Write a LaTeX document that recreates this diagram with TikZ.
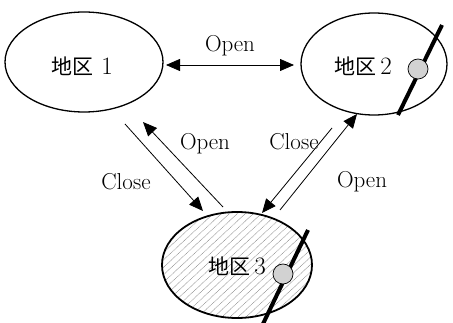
\documentclass[tikz,border=0pt]{standalone}
\usepackage{fontspec}
\newfontfamily\cjk{Noto Sans CJK SC}
\usetikzlibrary{shapes.geometric,arrows.meta}
\tikzset{
  area/.style={draw, line width=1.3pt, ellipse, inner sep=0pt},
  lbl/.style={font=\fontsize{23}{24}\selectfont, inner sep=0pt},
  zlbl/.style={font=\fontsize{25}{26}\selectfont, inner sep=0pt},
  tip/.tip={Triangle[length=14pt,width=12pt]},
  flow/.style={line width=0.8pt, -tip},
  cut/.style={line width=4pt},
  blob/.style={circle, draw, line width=0.7pt, fill=gray!35, minimum size=20pt, inner sep=0pt}
}
\newcommand{\zk}[1]{{\cjk\fontsize{21}{22}\selectfont #1}}
\begin{document}
\begin{tikzpicture}[x=1pt,y=-1pt]
\useasboundingbox (0,0) rectangle (453,323);
% area 3 hatched
\begin{scope}
  \clip (237,265) ellipse [x radius=75, y radius=53];
  \foreach \i in {-200,-192,...,200} {
    \draw[gray!80, line width=0.6pt, dash pattern=on 1pt off 0.6pt] (\i+160,330) -- (\i+300,200);
  }
\end{scope}
\node[area, line width=1.8pt, minimum width=150pt, minimum height=106pt] (a3) at (237,265) {};
\node[area, minimum width=158pt, minimum height=100pt] (a1) at (84,62) {};
\node[area, minimum width=146pt, minimum height=102pt] (a2) at (374,64) {};
% cuts
\coordinate (c2a) at (442,25);
\coordinate (c2b) at (398,115);
\draw[cut] (c2a) -- (c2b);
\node[blob] (b2) at (418,69) {};
\coordinate (c3a) at (308,230);
\coordinate (c3b) at (262,326);
\draw[cut] (c3a) -- (c3b);
\node[blob] (b3) at (283,274) {};
% labels
\node[zlbl] (t1) at (82,66) {\zk{地区}\,\,1};
\node[zlbl] (t2) at (363,66) {\zk{地区}\,2};
\node[zlbl] (t3) at (237,266) {\zk{地区}\,3};
% arrows
\coordinate (p1) at (166,65);
\coordinate (p2) at (294,65);
\draw[line width=0.8pt, tip-tip] (p1) -- (p2);
\node[lbl] (o12) at (230,46) {Open};
\coordinate (l1s) at (125,124);
\coordinate (l1e) at (203,211);
\draw[flow] (l1s) -- (l1e);
\coordinate (l2s) at (223,207);
\coordinate (l2e) at (143,122);
\draw[flow] (l2s) -- (l2e);
\coordinate (r1s) at (332,128);
\coordinate (r1e) at (262,213);
\draw[flow] (r1s) -- (r1e);
\coordinate (r2s) at (280,210);
\coordinate (r2e) at (357,114);
\draw[flow] (r2s) -- (r2e);
\node[lbl] (o13) at (205,144) {Open};
\node[lbl] (c13) at (126,182) {Close};
\node[lbl] (c23) at (294,142) {Close};
\node[lbl] (o23) at (362,182) {Open};
\end{tikzpicture}
\end{document}
